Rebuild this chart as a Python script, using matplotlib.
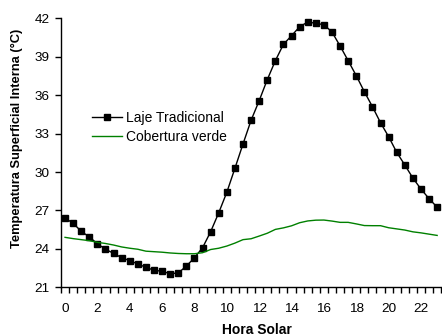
import numpy as np
import matplotlib
matplotlib.use("Agg")
import matplotlib.pyplot as plt

plt.rcParams['font.family'] = ['Liberation Sans', 'DejaVu Sans']

# Laje Tradicional: every half hour, 0..23 h
hours_laje = np.arange(0, 23.01, 0.5)
laje = [26.41, 26.00, 25.37, 24.93, 24.40, 23.97, 23.65, 23.31, 23.08, 22.82,
        22.56, 22.33, 22.25, 22.06, 22.12, 22.66, 23.31, 24.09, 25.34, 26.82,
        28.42, 30.29, 32.19, 34.04, 35.57, 37.21, 38.69, 39.97, 40.64, 41.34,
        41.71, 41.61, 41.50, 40.93, 39.84, 38.69, 37.52, 36.27, 35.10, 33.85,
        32.76, 31.54, 30.55, 29.53, 28.67, 27.92, 27.25]

# Cobertura verde
hours_verde = np.arange(0, 23.01, 0.5)
verde = [24.90, 24.80, 24.72, 24.64, 24.51, 24.42, 24.30, 24.15, 24.05, 23.97,
         23.82, 23.78, 23.74, 23.68, 23.64, 23.62, 23.62, 23.70, 23.95, 24.05,
         24.22, 24.45, 24.72, 24.79, 25.00, 25.22, 25.52, 25.64, 25.80, 26.04,
         26.18, 26.24, 26.25, 26.17, 26.07, 26.07, 25.95, 25.82, 25.81, 25.81,
         25.65, 25.56, 25.47, 25.33, 25.25, 25.15, 25.05]

xticks = list(range(0, 23, 2))
yticks = list(range(21, 43, 3))

fig = plt.figure(figsize=(4.42, 3.36), dpi=100)
ax = fig.add_axes([61/442, 1-287.3/336, 381/442, 269/336])

ax.plot(hours_laje, laje, color='black', lw=1.0, marker='s', ms=5.0,
        mfc='black', mec='black', label='Laje Tradicional')
ax.plot(hours_verde, verde, color='#008000', lw=1.0, label='Cobertura verde')

ax.set_xlim(-0.25, 23.3)
ax.set_ylim(21, 42)
for s in ['top', 'right']:
    ax.spines[s].set_visible(False)
ax.spines['left'].set_linewidth(1.0)
ax.spines['bottom'].set_linewidth(1.0)

ax.set_xticks(xticks)
ax.set_xticklabels([str(t) for t in xticks])
ax.set_xticks(np.arange(-0.25, 23.3, 0.5), minor=True)
ax.tick_params(axis='x', which='major', length=0, pad=11, labelsize=9.7)
ax.tick_params(axis='x', which='minor', length=4, width=1.0, direction='out')
ax.set_yticks(yticks)
ax.tick_params(axis='y', which='major', length=4.5, width=1.0, direction='out',
               pad=3.5, labelsize=9.7)

ax.set_xlabel('Hora Solar', fontsize=10, fontweight='bold')
ax.xaxis.set_label_coords(0.513, -0.133)
ax.set_ylabel('Temperatura Superficial Interna (°C)', fontsize=9.3, fontweight='bold')
ax.yaxis.set_label_coords(-0.10, 0.555)

fig.legend(loc='center left', bbox_to_anchor=(91.7/442, 1-127.5/336),
           frameon=False, fontsize=10, handlelength=2.2, handletextpad=0.3,
           labelspacing=0.4, borderpad=0, borderaxespad=0, numpoints=1)

fig.savefig('out.png', dpi=100)
